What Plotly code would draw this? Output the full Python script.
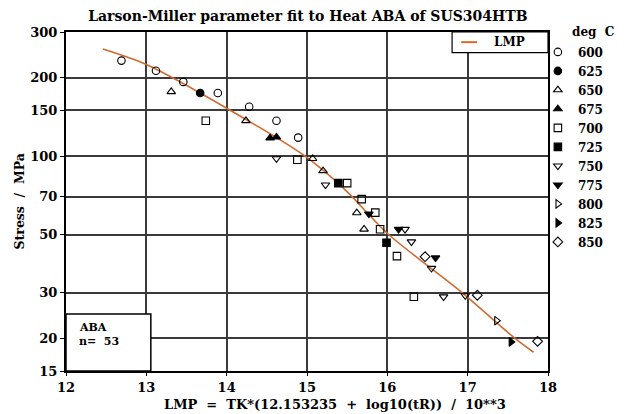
import plotly.graph_objects as go

# ---- data ----
temps = [600, 625, 650, 675, 700, 725, 750, 775, 800, 825, 850]
symbols = ["circle-open", "circle", "triangle-up-open", "triangle-up", "square-open",
           "square", "triangle-down-open", "triangle-down", "triangle-right-open",
           "triangle-right", "diamond-open"]

point_temp = [600, 600, 600, 600, 600, 600, 600,
              625,
              650, 650, 650, 650, 650, 650,
              675, 675,
              700, 700, 700, 700, 700, 700, 700, 700,
              725, 725,
              750, 750, 750, 750, 750, 750, 750,
              775, 775, 775,
              800,
              825,
              850, 850, 850]
point_lmp = [12.69, 13.12, 13.46, 13.89, 14.28, 14.62, 14.89,
             13.67,
             13.31, 14.24, 15.07, 15.20, 15.62, 15.71,
             14.54, 14.62,
             13.74, 14.88, 15.50, 15.68, 15.85, 15.91, 16.12, 16.33,
             15.39, 15.99,
             14.62, 15.23, 16.22, 16.30, 16.55, 16.70, 16.97,
             15.77, 16.14, 16.60,
             17.36,
             17.54,
             16.47, 17.12, 17.87]
point_stress = [233, 213, 193, 175, 155, 137, 118,
                175,
                177, 137, 98, 88, 60.7, 52.5,
                117.5, 118.5,
                137, 97, 78.9, 68.5, 60.8, 52.5, 41.4, 28.9,
                78.9, 46.6,
                98, 77.7, 52.5, 47.0, 37.2, 28.9, 29.2,
                60.1, 52.5, 40.8,
                23.4,
                19.4,
                41.2, 29.3, 19.5]

fit_lmp = [12.46, 13.0, 14.0, 14.98, 15.41, 15.56, 16.02, 16.93, 17.59, 17.82]
fit_stress = [258, 225, 153, 100, 77.7, 70, 50, 30, 20, 17.7]

xticks = [12, 13, 14, 15, 16, 17, 18]
yticks = [15, 20, 30, 50, 70, 100, 150, 200, 300]

FONT = "DejaVu Serif"
FIT_COLOR = "#d2692f"

fig = go.Figure()

fig.add_trace(go.Scatter(
    x=fit_lmp, y=fit_stress, mode="lines", name="LMP", showlegend=False,
    line=dict(color=FIT_COLOR, width=1.6, shape="spline", smoothing=0.8)))

for t, s in zip(temps, symbols):
    xs = [x for x, tt in zip(point_lmp, point_temp) if tt == t]
    ys = [y for y, tt in zip(point_stress, point_temp) if tt == t]
    fig.add_trace(go.Scatter(
        x=xs, y=ys, mode="markers", name=str(t),
        marker=dict(symbol=s, size=7.5, color="black",
                    line=dict(color="black", width=1.1))))

fig.update_layout(
    width=627, height=414,
    margin=dict(l=66, r=79, t=32, b=43),
    plot_bgcolor="white", paper_bgcolor="white",
    font=dict(family=FONT, size=13, color="black", weight="bold"),
    title=dict(text="Larson-Miller parameter fit to Heat ABA of SUS304HTB",
               x=0.491, xref="container", xanchor="center",
               y=0.962, yref="container", yanchor="middle",
               font=dict(family=FONT, size=14, weight="bold")),
    legend=dict(x=0.979, xanchor="left", y=0.984, yanchor="top",
                bgcolor="rgba(0,0,0,0)", borderwidth=0,
                font=dict(family=FONT, size=12, weight="bold")),
    showlegend=True,
)

fig.update_xaxes(range=[12, 18], tickvals=xticks, ticktext=[str(v) for v in xticks],
                 showgrid=True, gridcolor="#3a3a3a", gridwidth=1.5,
                 showline=True, mirror=True, linecolor="black", linewidth=2,
                 ticks="outside", ticklen=3, tickcolor="black", zeroline=False)
fig.update_yaxes(type="log", range=[1.17609, 2.47712], tickvals=yticks,
                 ticktext=[str(v) for v in yticks],
                 showgrid=True, gridcolor="#3a3a3a", gridwidth=1.5,
                 showline=True, mirror=True, linecolor="black", linewidth=2,
                 ticks="outside", ticklen=4, tickcolor="black", zeroline=False)

# sample box at lower left
fig.add_shape(type="rect", xref="x domain", yref="y domain",
              x0=0, x1=0.176, y0=0, y1=0.168,
              fillcolor="white", line=dict(color="black", width=1.5), layer="above")
fig.add_annotation(text="ABA", xref="paper", yref="paper", x=0.023, y=0.129,
                   xanchor="left", yanchor="middle", showarrow=False,
                   font=dict(family=FONT, size=11, weight="bold"))
fig.add_annotation(text="n=  53", xref="paper", yref="paper", x=0.023, y=0.086,
                   xanchor="left", yanchor="middle", showarrow=False,
                   font=dict(family=FONT, size=11, weight="bold"))

# fit-line key box at upper right
fig.add_shape(type="rect", xref="x domain", yref="y domain",
              x0=0.801, x1=1.0, y0=0.939, y1=1.0,
              fillcolor="white", line=dict(color="black", width=1.2), layer="above")
fig.add_shape(type="line", xref="x domain", yref="y domain",
              x0=0.820, x1=0.853, y0=0.970, y1=0.970,
              line=dict(color=FIT_COLOR, width=2), layer="above")
fig.add_annotation(text="LMP", xref="x domain", yref="y domain", x=0.884, y=0.970,
                   xanchor="left", yanchor="middle", showarrow=False,
                   font=dict(family=FONT, size=12, weight="bold"))

fig.add_annotation(text="deg  C", xref="paper", yref="paper", x=1.045, y=1.0,
                   xanchor="left", yanchor="middle", showarrow=False,
                   font=dict(family=FONT, size=12, weight="bold"))
fig.add_annotation(text="Stress  /  MPa", xref="paper", yref="paper",
                   x=-0.0975, y=0.50, textangle=-90, showarrow=False,
                   xanchor="center", yanchor="middle",
                   font=dict(family=FONT, size=12.5, weight="bold"))
fig.add_annotation(text="LMP  =  TK*(12.153235  +  log10(tR))  /  10**3",
                   xref="paper", yref="paper", x=0.558, y=-0.0985,
                   xanchor="center", yanchor="middle", showarrow=False,
                   font=dict(family=FONT, size=13, weight="bold"))

fig.write_html("out.html")
